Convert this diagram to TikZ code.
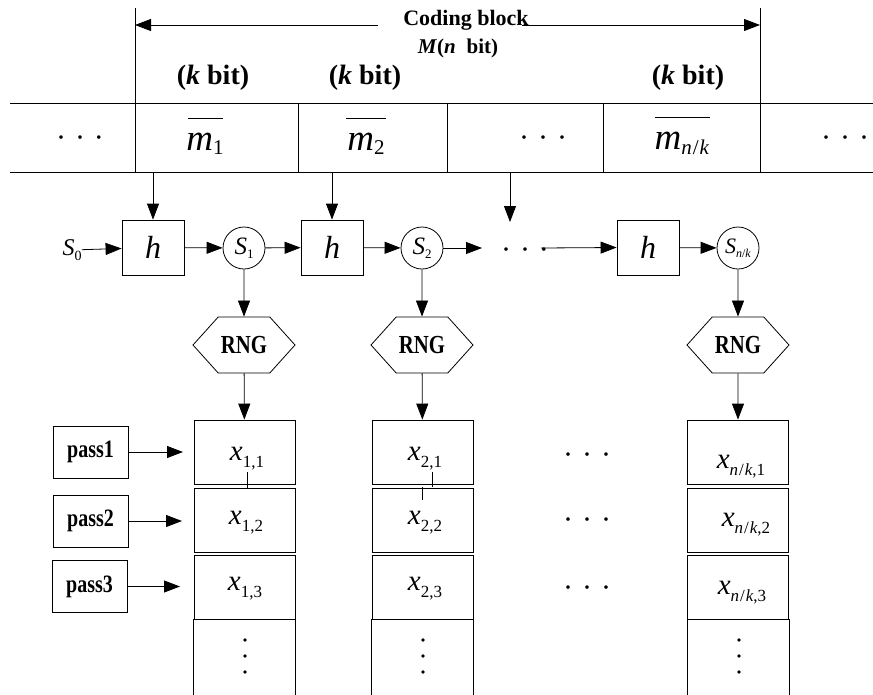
\documentclass[tikz,border=0pt]{standalone}
\usepackage{fontspec}
\setmainfont{Liberation Serif}
\newfontfamily\narrowserif{Liberation Serif}[FakeStretch=0.8]
\usetikzlibrary{arrows.meta,shapes.symbols}
% font size helper
\newcommand\fs[1]{\fontsize{#1}{#1}\selectfont}
% lowered subscript: shift, size, text
\newcommand\dn[3]{\raisebox{-#1}{\fs{#2}#3}}
% bar of given width set above a box
\newcommand\topbar[2]{\setbox0=\hbox{#2}\vbox{\offinterlineskip\hbox to\wd0{\hss\vrule width #1 height 0.8pt depth 0pt\hss}\kern 14pt\box0}}
% horizontal row of dots
\newcommand\hdotrow{·\hspace{9pt}·\hspace{9pt}·}
\begin{document}
\begin{tikzpicture}[x=1pt,y=-1pt,line width=0.8pt,
  arr/.style={-{Triangle[length=16pt,width=12pt]}},
  hbox/.style={draw,minimum width=62pt,minimum height=55pt,inner sep=0pt,font=\fs{32}},
  state/.style={draw,circle,minimum size=42pt,inner sep=0pt},
  rng/.style={draw,shape=signal,signal to=west and east,signal pointer angle=96,
    minimum width=102pt,minimum height=56pt,inner sep=0pt,font=\narrowserif\bfseries\fs{26}},
  cell/.style={draw,minimum width=101pt,minimum height=64pt,inner sep=0pt},
  passbox/.style={draw,minimum width=75pt,minimum height=52pt,inner sep=0pt,
    font=\narrowserif\bfseries\fs{25}},
  lbl/.style={inner sep=0pt},
  kbit/.style={lbl,font=\bfseries\fs{28}},
  xvar/.style={lbl,font=\fs{29}},
  dotsh/.style={lbl,font=\fs{30}},
  vdot/.style={fill,circle,inner sep=0pt,minimum size=3.6pt},
]
\useasboundingbox (0,0) rectangle (873,694);

% ---- coding block header ----
\draw (135,8) -- (135,172);
\draw (760,8) -- (760,172);
\coordinate (cbL) at (135,25);
\coordinate (cbR) at (760,25);
\coordinate (cbLi) at (378,25);
\coordinate (cbRi) at (522,25);
\draw[arr] (cbLi) -- (cbL);
\draw[arr] (cbRi) -- (cbR);
\node[lbl,font=\bfseries\fs{22}] (coding) at (466,20) {Coding block};
\node[lbl,font=\bfseries\fs{21}] (mbits) at (458,48) {\textit{M}(\textit{n}\hspace{11pt}bit)};
\node[kbit] (kb1) at (213,78) {(\textit{k} bit)};
\node[kbit] (kb2) at (365,78) {(\textit{k} bit)};
\node[kbit] (kb3) at (688,78) {(\textit{k} bit)};

% ---- message table ----
\draw (10,103) -- (873,103);
\draw (10,172) -- (873,172);
\draw (298,103) -- (298,172);
\draw (447,103) -- (447,172);
\draw (603,103) -- (603,172);
\draw (292,103) -- (299,103);
\draw (292,172) -- (299,172);
\node[dotsh] (t0) at (80,142) {\hdotrow};
\node[lbl] (m1) at (205,136) {\topbar{35pt}{\fs{37}\textit{m}\dn{4pt}{21}{1}}};
\node[lbl] (m2) at (366,136) {\topbar{40pt}{\fs{37}\textit{m}\dn{4pt}{21}{2}}};
\node[dotsh] (t3) at (543,142) {\hdotrow};
\node[lbl] (mk) at (682,136) {\topbar{55pt}{\fs{37}\textit{m}\dn{5pt}{21}{\textit{n}\hspace{1pt}/\hspace{1pt}\textit{k}}}};
\node[dotsh] (t5) at (845,142) {\hdotrow};

% ---- hash chain ----
\coordinate (tabbot) at (0,172);
\node[lbl,font=\fs{24}] (s0) at (72,250) {\textit{S}\dn{5pt}{14}{0}};
\node[hbox] (h1) at (153,247.5) {\textit{h}};
\node[state] (s1) at (244,248) {\fs{25}\textit{S}\dn{4pt}{13}{1}};
\node[hbox] (h2) at (332,247.5) {\textit{h}};
\node[state] (s2) at (422,248) {\fs{25}\textit{S}\dn{4pt}{13}{2}};
\coordinate (gapA) at (482,248);
\node[dotsh] (fdots) at (525,254) {\hdotrow};
\node[hbox] (h3) at (648,247.5) {\textit{h}};
\node[state] (s3) at (738,248) {\fs{22}\textit{S}\dn{4pt}{12}{\textit{n}/\textit{k}}};
\coordinate (drop3) at (510,172);
\coordinate (drop3e) at (510,222);
\coordinate (fdE) at (541,248);

\draw[arr] (h1.north |- tabbot) -- (h1.north);
\draw[arr] (h2.north |- tabbot) -- (h2.north);
\draw[arr] (drop3) -- (drop3e);
\draw[arr] (s0) -- (h1);
\draw[arr] (h1) -- (s1);
\draw[arr] (s1) -- (h2);
\draw[arr] (h2) -- (s2);
\draw[arr] (s2) -- (gapA);
\draw[arr] (fdE) -- (h3.west);
\draw[arr] (h3) -- (s3);

% ---- generators ----
\node[rng] (r1) at (244,345) {RNG};
\node[rng] (r2) at (422,345) {RNG};
\node[rng] (r3) at (738,345) {RNG};
\draw[arr] (s1) -- (r1);
\draw[arr] (s2) -- (r2);
\draw[arr] (s3) -- (r3);

% ---- output columns ----
\node[cell] (c11) at (244.5,452) {};
\node[cell] (c12) at (244.5,520) {};
\node[cell] (c13) at (244.5,587) {};
\node[cell] (c21) at (422.5,452) {};
\node[cell] (c22) at (422.5,520) {};
\node[cell] (c23) at (422.5,587) {};
\node[cell] (c31) at (738,452) {};
\node[cell] (c32) at (738,520) {};
\node[cell] (c33) at (738,587) {};
\foreach \c in {c13,c23,c33}{
  \draw (\c.south west) -- ++(0,80);
  \draw (\c.south east) -- ++(0,80);
}
\draw[arr] (r1) -- (c11);
\draw[arr] (r2) -- (c21);
\draw[arr] (r3) -- (c31);

\node[xvar] (x11) at (247,459) {\textit{x}\dn{7pt}{17}{1,1}};
\node[xvar] (x12) at (246,523) {\textit{x}\dn{7pt}{17}{1,2}};
\node[xvar] (x13) at (245,589) {\textit{x}\dn{7pt}{17}{1,3}};
\node[xvar] (x21) at (425,459) {\textit{x}\dn{7pt}{17}{2,1}};
\node[xvar] (x22) at (425,523) {\textit{x}\dn{7pt}{17}{2,2}};
\node[xvar] (x23) at (425,589) {\textit{x}\dn{7pt}{17}{2,3}};
\node[xvar] (x31) at (741,467) {\textit{x}\dn{7pt}{17}{\textit{n}\hspace{1pt}/\hspace{1pt}\textit{k},1}};
\node[xvar] (x32) at (746,525) {\textit{x}\dn{7pt}{17}{\textit{n}\hspace{1pt}/\hspace{1pt}\textit{k},2}};
\node[xvar] (x33) at (742,593) {\textit{x}\dn{7pt}{17}{\textit{n}\hspace{1pt}/\hspace{1pt}\textit{k},3}};

\draw (247,472) -- (247,488);
\draw (432,472) -- (432,487);
\draw (422,487) -- (422,500);

% vertical dots in the open bottom cells
\foreach \xx/\nm in {245/a,423/b,739/c}{
  \foreach \yy [count=\i] in {640,656,672}{
    \node[vdot] (vd\nm\i) at (\xx,\yy) {};
  }
}

\node[dotsh] (d1) at (587,459) {\hdotrow};
\node[dotsh] (d2) at (587,524) {\hdotrow};
\node[dotsh] (d3) at (587,592) {\hdotrow};

% ---- pass inputs ----
\node[passbox] (p1) at (90.5,452) {pass1};
\node[passbox] (p2) at (90.5,521) {pass2};
\node[passbox] (p3) at (89.5,586.5) {pass3};
\coordinate (p1e) at (183,452);
\coordinate (p2e) at (182,521);
\coordinate (p3e) at (180,586.5);
\draw[arr] (p1) -- (p1e);
\draw[arr] (p2) -- (p2e);
\draw[arr] (p3) -- (p3e);
\end{tikzpicture}
\end{document}
